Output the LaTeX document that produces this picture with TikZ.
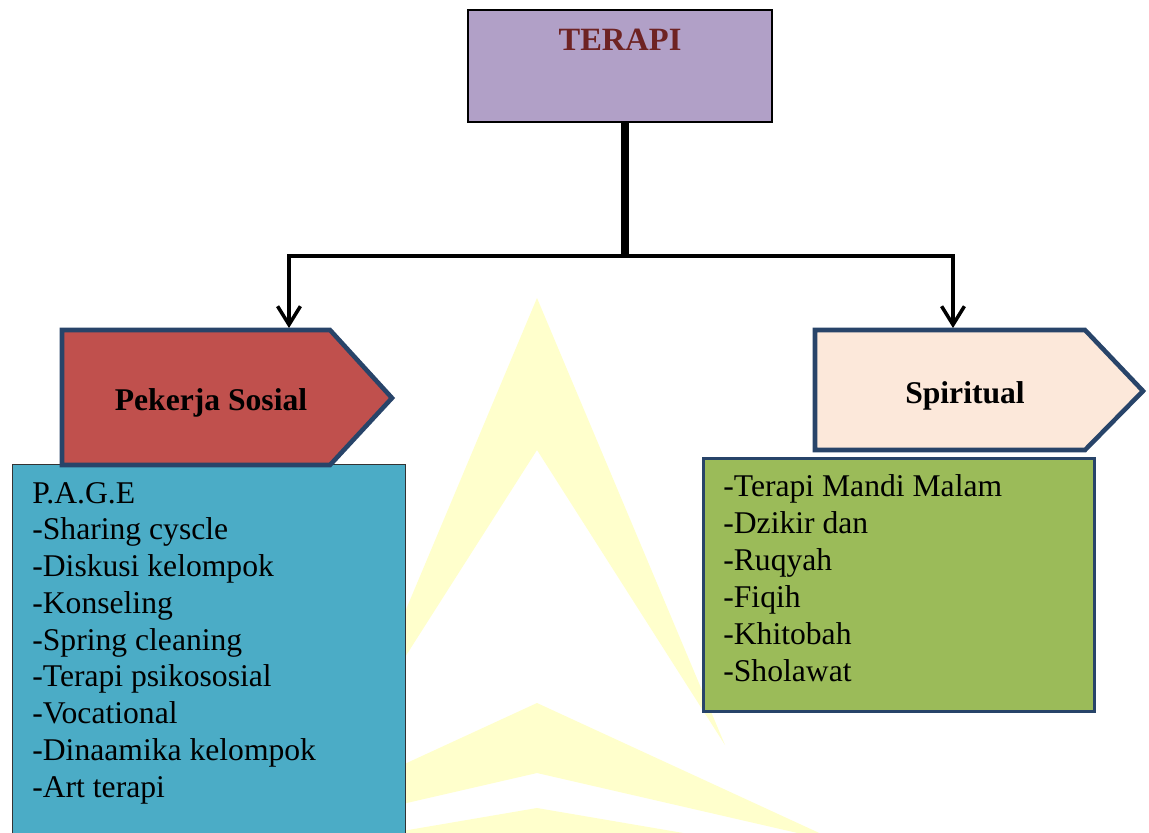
\documentclass[tikz,border=0pt]{standalone}
\usepackage{fontspec}
\setmainfont{Liberation Serif}
\usetikzlibrary{arrows.meta,calc}
\definecolor{lav}{RGB}{177,160,199}
\definecolor{terred}{RGB}{110,35,35}
\definecolor{psred}{RGB}{192,80,77}
\definecolor{navy}{RGB}{40,68,105}
\definecolor{peach}{RGB}{252,232,218}
\definecolor{tblue}{RGB}{75,172,198}
\definecolor{tgreen}{RGB}{155,187,89}
\definecolor{wm}{RGB}{255,255,204}
\tikzset{
  headtxt/.style={anchor=base, inner sep=0pt, font=\bfseries\fontsize{18}{22}\selectfont},
  listtxt/.style={anchor=base west, inner sep=0pt, font=\fontsize{18}{22}\selectfont},
  pentagon/.style={draw=navy, line width=2.6pt, line join=miter},
  conn/.style={draw=black, line width=2pt, -{Straight Barb[length=10.5pt,width=13pt]}},
  trunk/.style={draw=black, line width=4.5pt},
  wmark/.style={fill=wm}
}
\begin{document}
\begin{tikzpicture}[x=0.02cm,y=-0.02cm]
\useasboundingbox (0,0) rectangle (1149,832);
\fill[white] (0,0) rectangle (1149,832);
% watermark
\fill[wmark] (537,298) -- (725,745) -- (537,450) -- (349,745) -- cycle;
\fill[wmark] (537,703) -- (841,843) -- (537,773) -- (233,843) -- cycle;
\fill[wmark] (537,808) -- (900,870) -- (174,870) -- cycle;
% top box
\node[draw=black, line width=0.8pt, fill=lav, minimum width=6.08cm, minimum height=2.24cm, inner sep=0pt] (terapi) at (620,66) {};
\node[headtxt, text=terred, font=\bfseries\fontsize{18.5}{22}\selectfont] (terapilbl) at (620,50) {TERAPI};
% connectors anchors
\coordinate (hub) at (625,256);
\coordinate (pstop) at (289,328);
\coordinate (sptop) at (953,328);
% blue box
\node[draw=black!80, line width=0.8pt, fill=tblue, minimum width=7.86cm, minimum height=7.6cm, inner sep=0pt, anchor=north west] (bluebox) at (12,464) {};
% green box
\node[draw=navy, line width=1.5pt, fill=tgreen, minimum width=7.82cm, minimum height=5.06cm, inner sep=0pt, anchor=north west] (greenbox) at (702,457) {};
% pentagons
\fill[psred] (62,330) -- (330,330) -- (392,398) -- (330,465) -- (62,465) -- cycle;
\draw[pentagon] (62,330) -- (330,330) -- (392,398) -- (330,465) -- (62,465) -- cycle;
\fill[peach] (815,330) -- (1085,330) -- (1143,391) -- (1085,450) -- (815,450) -- cycle;
\draw[pentagon] (815,330) -- (1085,330) -- (1143,391) -- (1085,450) -- (815,450) -- cycle;
\node[headtxt] (pslbl) at (211,410) {Pekerja Sosial};
\node[headtxt] (splbl) at (965,403) {Spiritual};
% connectors
\draw[trunk] (terapi.south -| hub) -- (hub);
\draw[conn] (hub) -| (pstop);
\draw[conn] (hub) -| (sptop);
% lists
\foreach \t [count=\i] in {P.A.G.E, -Sharing cyscle, -Diskusi kelompok, -Konseling, -Spring cleaning, -Terapi psikososial, -Vocational, -Dinaamika kelompok, -Art terapi}
  \node[listtxt] (pl\i) at (32,{503+36.75*(\i-1)}) {\t};
\foreach \t [count=\i] in {-Terapi Mandi Malam, -Dzikir dan, -Ruqyah, -Fiqih, -Khitobah, -Sholawat}
  \node[listtxt] (sl\i) at (723,{496+37*(\i-1)}) {\t};
\end{tikzpicture}
\end{document}
